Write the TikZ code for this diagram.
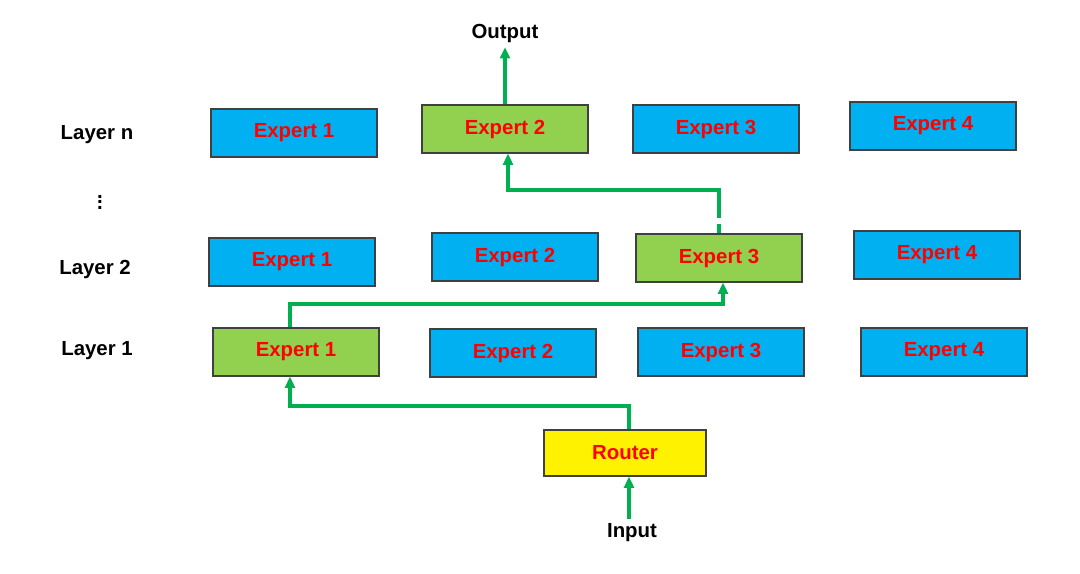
\documentclass[tikz,border=0pt]{standalone}
\usepackage{fontspec}
\setmainfont{Liberation Sans}
\usetikzlibrary{positioning,arrows.meta}
\definecolor{expblue}{HTML}{00B0F0}
\definecolor{expgreen}{HTML}{92D050}
\definecolor{flow}{HTML}{00B050}
\begin{document}
\begin{tikzpicture}[
  x=0.025cm, y=-0.025cm,
  >={Triangle[length=8pt,width=7pt]},
  expert/.style={draw=black!75, thick, rectangle, minimum width=4.15cm, minimum height=1.2cm,
    fill=expblue, text=red, font=\fontsize{14.5}{16}\selectfont\bfseries},
  chosen/.style={expert, fill=expgreen},
  layer/.style={font=\fontsize{14.5}{16}\selectfont\bfseries},
  route/.style={->, flow, line width=2.4pt}
]
\useasboundingbox (0,0) rectangle (1080,573);

% Layer n
\node[expert] (n1) at (294,133) {Expert 1};
\node[chosen] (n2) at (505,129) {Expert 2};
\node[expert] (n3) at (716,129) {Expert 3};
\node[expert] (n4) at (933,126) {Expert 4};
% Layer 2
\node[expert] (b1) at (292,262) {Expert 1};
\node[expert] (b2) at (515,257) {Expert 2};
\node[chosen] (b3) at (719,258) {Expert 3};
\node[expert] (b4) at (937,255) {Expert 4};
% Layer 1
\node[chosen] (a1) at (296,352) {Expert 1};
\node[expert] (a2) at (513,353) {Expert 2};
\node[expert] (a3) at (721,352) {Expert 3};
\node[expert] (a4) at (944,352) {Expert 4};
\node[expert, fill=yellow, minimum width=4.05cm, minimum height=1.15cm] (router) at (625,453) {Router};

% Labels
\node[layer] (ln) at (97,135) {Layer n};
\node[layer] (dots) at (100,198) {$\vdots$};
\node[layer] (l2) at (95,269) {Layer 2};
\node[layer] (l1) at (97,351) {Layer 1};
\node[layer] (output) at (505,33) {Output};
\node[layer] (input) at (632,533) {Input};

% Routes
\coordinate (d1) at (719,215);
\draw[route] (input.north -| 629,0) -- (router.south -| 629,0);
\draw[route] (router.north -| 629,0) |- (290,406) -- (a1.south -| 290,0);
\draw[route] (a1.north -| 290,0) |- (723,304) -- (b3.south -| 723,0);
\draw[flow, line width=2.4pt, dash pattern=on 7pt off 4pt] (b3.north -| 719,0) -- (d1);
\draw[route] (d1) |- (508,190) -- (n2.south -| 508,0);
\draw[route] (n2.north) -- (output.south);
\end{tikzpicture}
\end{document}
